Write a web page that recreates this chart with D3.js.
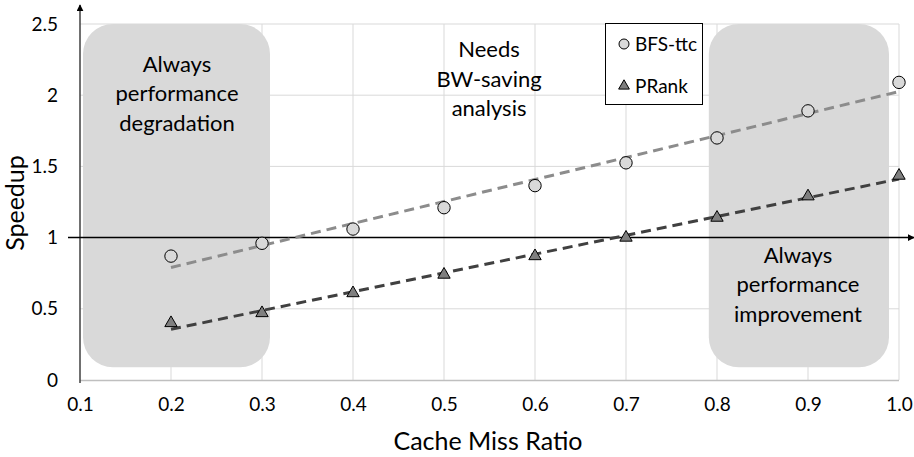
<!DOCTYPE html>
<html>
<head>
<meta charset="utf-8">
<script src="https://cdn.jsdelivr.net/npm/d3@7"></script>
<style>
  html, body { margin: 0; padding: 0; background: #fff; }
  svg { display: block; font-family: Lato, "Open Sans", sans-serif; }
</style>
</head>
<body>
<svg id="chart" width="914" height="457"></svg>
<script>
// Cache miss ratios on the x axis
const missRatio = [0.2, 0.3, 0.4, 0.5, 0.6, 0.7, 0.8, 0.9, 1.0];
// Measured speedups
const bfsTtc = [0.87, 0.96, 1.06, 1.21, 1.365, 1.525, 1.70, 1.89, 2.09];
const pRank  = [0.40, 0.47, 0.61, 0.74, 0.87, 1.00, 1.14, 1.29, 1.435];
// Axis ticks
const xTicks = [0.1, 0.2, 0.3, 0.4, 0.5, 0.6, 0.7, 0.8, 0.9, 1.0];
const xTickLabels = ["0.1", "0.2", "0.3", "0.4", "0.5", "0.6", "0.7", "0.8", "0.9", "1.0"];
const yTicks = [0, 0.5, 1, 1.5, 2, 2.5];
const yTickLabels = ["0", "0.5", "1", "1.5", "2", "2.5"];
// Shaded regions (in data units) and their captions
const zones = [
  { x0: 0.1033, x1: 0.3088, y0: 0.09, y1: 2.5, label: ["Always", "performance", "degradation"], cx: 0.2066, ty: 2.163 },
  { x0: 0.791, x1: 0.989, y0: 0.09, y1: 2.5, label: ["Always", "performance", "improvement"], cx: 0.889, ty: 0.822 }
];
const middleNote = { cx: 0.5495, ty: 2.268, label: ["Needs", "BW-saving", "analysis"] };
const seriesNames = ["BFS-ttc", "PRank"];

const svg = d3.select("#chart");
const x = d3.scaleLinear().domain([0.1, 1.0]).range([80, 899]);
const y = d3.scaleLinear().domain([0, 2.5]).range([380, 24]);

// Gridlines
const grid = svg.append("g");
grid.selectAll("line.vg").data(xTicks.slice(1)).join("line")
  .attr("x1", d => x(d)).attr("x2", d => x(d))
  .attr("y1", y(0)).attr("y2", y(2.5))
  .attr("stroke", "#d9d9d9").attr("stroke-width", 1);
grid.selectAll("line.hg").data(yTicks.filter(d => d !== 0 && d !== 1)).join("line")
  .attr("x1", x(0.1)).attr("x2", x(1.0))
  .attr("y1", d => y(d)).attr("y2", d => y(d))
  .attr("stroke", "#d9d9d9").attr("stroke-width", 1);

// Bottom axis line
svg.append("line")
  .attr("x1", x(0.1)).attr("x2", x(1.0)).attr("y1", y(0) + 0.5).attr("y2", y(0) + 0.5)
  .attr("stroke", "#bfbfbf").attr("stroke-width", 1.5);

// Shaded zones
svg.selectAll("rect.zone").data(zones).join("rect")
  .attr("x", d => x(d.x0)).attr("y", d => y(d.y1))
  .attr("width", d => x(d.x1) - x(d.x0)).attr("height", d => y(d.y0) - y(d.y1))
  .attr("rx", 30).attr("ry", 30)
  .attr("fill", "#d9d9d9");

// Arrow markers
const defs = svg.append("defs");
defs.append("marker").attr("id", "arrow")
  .attr("viewBox", "0 0 10 10").attr("refX", 9).attr("refY", 5)
  .attr("markerWidth", 7).attr("markerHeight", 7).attr("markerUnits", "userSpaceOnUse")
  .attr("orient", "auto")
  .append("path").attr("d", "M0,0L10,5L0,10Z").attr("fill", "#000");

// Y axis with arrow
svg.append("line")
  .attr("x1", x(0.1)).attr("x2", x(0.1)).attr("y1", y(0) + 3).attr("y2", 5)
  .attr("stroke", "#404040").attr("stroke-width", 1.5)
  .attr("marker-end", "url(#arrow)");

// Speedup = 1 reference line with arrow
svg.append("line")
  .attr("x1", 68).attr("x2", 914).attr("y1", y(1)).attr("y2", y(1))
  .attr("stroke", "#000").attr("stroke-width", 1.5)
  .attr("marker-end", "url(#arrow)");

// Tick labels
const yAxis = d3.axisLeft(y).tickValues(yTicks)
  .tickFormat((d, i) => yTickLabels[i]).tickSize(0).tickPadding(22);
svg.append("g").attr("transform", `translate(${x(0.1)},0)`).call(yAxis)
  .call(g => g.select(".domain").remove())
  .call(g => g.selectAll("text").attr("font-family", "Lato, sans-serif").attr("font-size", 19).attr("fill", "#000"));

const xAxis = d3.axisBottom(x).tickValues(xTicks)
  .tickFormat((d, i) => xTickLabels[i]).tickSize(0).tickPadding(18);
svg.append("g").attr("transform", `translate(0,${y(0)})`).call(xAxis)
  .call(g => g.select(".domain").remove())
  .call(g => g.selectAll("text").attr("font-family", "Lato, sans-serif").attr("font-size", 19).attr("fill", "#000"));

// Axis titles
svg.append("text").attr("x", 488).attr("y", 450).attr("text-anchor", "middle")
  .attr("font-size", 25).text("Cache Miss Ratio");
svg.append("text").attr("transform", "translate(24,203) rotate(-90)")
  .attr("text-anchor", "middle").attr("font-size", 25).text("Speedup");

// Zone captions
function caption(cx, ty, lines) {
  const t = svg.append("text").attr("text-anchor", "middle").attr("font-size", 22).attr("fill", "#000");
  lines.forEach((s, i) => {
    t.append("tspan").attr("x", x(cx)).attr("y", y(ty) + i * 29.5).text(s);
  });
}
zones.forEach(z => caption(z.cx, z.ty, z.label));
caption(middleNote.cx, middleNote.ty, middleNote.label);

// Least-squares trend lines
function fit(xs, ys) {
  const mx = d3.mean(xs), my = d3.mean(ys);
  const sxy = d3.sum(xs, (v, i) => (v - mx) * (ys[i] - my));
  const sxx = d3.sum(xs, v => (v - mx) * (v - mx));
  const b = sxy / sxx, a = my - b * mx;
  const ends = d3.extent(xs);
  return ends.map(v => [v, a + b * v]);
}
const line = d3.line().x(d => x(d[0])).y(d => y(d[1]));
svg.append("path").datum(fit(missRatio, bfsTtc)).attr("d", line)
  .attr("fill", "none").attr("stroke", "#8c8c8c").attr("stroke-width", 3)
  .attr("stroke-dasharray", "10,6");
svg.append("path").datum(fit(missRatio, pRank)).attr("d", line)
  .attr("fill", "none").attr("stroke", "#404040").attr("stroke-width", 3)
  .attr("stroke-dasharray", "10,6");

// Markers
const circleSym = d3.symbol().type(d3.symbolCircle).size(Math.PI * 6.2 * 6.2);
const triSym = d3.symbol().type(d3.symbolTriangle).size(66);
svg.selectAll("path.bfs").data(missRatio).join("path")
  .attr("d", circleSym())
  .attr("transform", (d, i) => `translate(${x(d)},${y(bfsTtc[i])})`)
  .attr("fill", "#d9d9d9").attr("stroke", "#000").attr("stroke-width", 1);
svg.selectAll("path.pr").data(missRatio).join("path")
  .attr("d", triSym())
  .attr("transform", (d, i) => `translate(${x(d)},${y(pRank[i])})`)
  .attr("fill", "#7f7f7f").attr("stroke", "#000").attr("stroke-width", 1);

// Legend
const lg = svg.append("g");
lg.append("rect").attr("x", 605.5).attr("y", 23.5).attr("width", 97).attr("height", 81)
  .attr("fill", "#fff").attr("stroke", "#000").attr("stroke-width", 1);
lg.append("path").attr("d", d3.symbol().type(d3.symbolCircle).size(Math.PI * 5 * 5)())
  .attr("transform", "translate(624,44)")
  .attr("fill", "#d9d9d9").attr("stroke", "#000").attr("stroke-width", 1);
lg.append("path").attr("d", d3.symbol().type(d3.symbolTriangle).size(50)())
  .attr("transform", "translate(624,86)")
  .attr("fill", "#7f7f7f").attr("stroke", "#000").attr("stroke-width", 1);
lg.selectAll("text").data(seriesNames).join("text")
  .attr("x", 635).attr("y", (d, i) => 51 + i * 42)
  .attr("font-size", 19).attr("fill", "#000").text(d => d);
</script>
</body>
</html>
